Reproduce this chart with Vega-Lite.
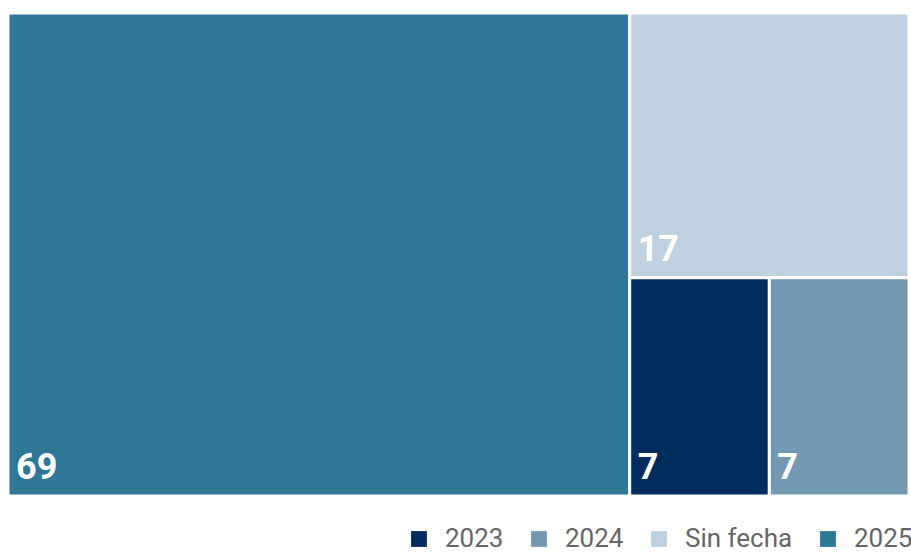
{
  "$schema": "https://vega.github.io/schema/vega-lite/v6.json",
  "width": 901,
  "height": 483,
  "autosize": {"type": "none"},
  "padding": {"left": 8, "top": 13, "right": 2, "bottom": 57},
  "background": "white",
  "config": {"view": {"stroke": null}, "font": "Roboto"},
  "data": {
    "values": [
      {"label": "2025", "value": 69, "col": 1, "row": 1, "ord": 1},
      {"label": "Sin fecha", "value": 17, "col": 2, "row": 1, "ord": 1},
      {"label": "2023", "value": 7, "col": 2, "row": 2, "ord": 1},
      {"label": "2024", "value": 7, "col": 2, "row": 2, "ord": 2}
    ]
  },
  "transform": [
    {"joinaggregate": [{"op": "sum", "field": "value", "as": "total"}]},
    {"joinaggregate": [{"op": "sum", "field": "value", "as": "colSum"}], "groupby": ["col"]},
    {"joinaggregate": [{"op": "sum", "field": "value", "as": "rowSum"}], "groupby": ["col", "row"]},
    {"window": [{"op": "sum", "field": "value", "as": "cumAll"}], "sort": [{"field": "col"}, {"field": "row"}, {"field": "ord"}], "frame": [null, 0]},
    {"calculate": "datum.cumAll - datum.value", "as": "beforeAll"},
    {"joinaggregate": [{"op": "min", "field": "beforeAll", "as": "colStart"}], "groupby": ["col"]},
    {"window": [{"op": "sum", "field": "value", "as": "cumCol"}], "groupby": ["col"], "sort": [{"field": "row"}, {"field": "ord"}], "frame": [null, 0]},
    {"calculate": "datum.cumCol - datum.value", "as": "beforeCol"},
    {"joinaggregate": [{"op": "min", "field": "beforeCol", "as": "rowStart"}], "groupby": ["col", "row"]},
    {"window": [{"op": "sum", "field": "value", "as": "cumRow"}], "groupby": ["col", "row"], "sort": [{"field": "ord"}], "frame": [null, 0]},
    {"calculate": "datum.cumRow - datum.value", "as": "beforeRow"},
    {"calculate": "datum.colStart / datum.total + (datum.beforeRow / datum.rowSum) * (datum.colSum / datum.total)", "as": "x0"},
    {"calculate": "datum.x0 + (datum.value / datum.rowSum) * (datum.colSum / datum.total)", "as": "x1"},
    {"calculate": "datum.rowStart / datum.colSum", "as": "y0"},
    {"calculate": "(datum.rowStart + datum.rowSum) / datum.colSum", "as": "y1"}
  ],
  "encoding": {
    "x": {"field": "x0", "type": "quantitative", "scale": {"domain": [0, 1], "nice": false, "zero": false}, "axis": null}
  },
  "layer": [
    {
      "mark": {"type": "rect", "stroke": "white", "strokeWidth": 3},
      "encoding": {
        "x2": {"field": "x1"},
        "y": {"field": "y0", "type": "quantitative", "scale": {"domain": [0, 1], "reverse": true, "nice": false, "zero": false}, "axis": null},
        "y2": {"field": "y1"},
        "color": {
          "field": "label",
          "type": "nominal",
          "scale": {
            "domain": ["2023", "2024", "Sin fecha", "2025"],
            "range": ["#002D5E", "#7399B2", "#BDD1E0", "#2E7796"]
          },
          "legend": {
            "title": null,
            "orient": "none",
            "direction": "horizontal",
            "legendX": 398,
            "legendY": 513,
            "symbolType": "square",
            "symbolSize": 250,
            "symbolStrokeWidth": 0,
            "symbolOpacity": 1,
            "labelFontSize": 26,
            "labelColor": "#666666",
            "labelFont": "Roboto",
            "columnPadding": 22,
            "symbolOffset": 0,
            "labelOffset": 13
          }
        }
      }
    },
    {
      "mark": {"type": "text", "align": "left", "baseline": "alphabetic", "dx": 8, "dy": -17, "fontSize": 36, "fontWeight": "bold", "color": "white", "font": "Roboto"},
      "encoding": {
        "y": {"field": "y1", "type": "quantitative", "scale": {"domain": [0, 1], "reverse": true, "nice": false, "zero": false}, "axis": null},
        "text": {"field": "value", "type": "quantitative"}
      }
    }
  ]
}
